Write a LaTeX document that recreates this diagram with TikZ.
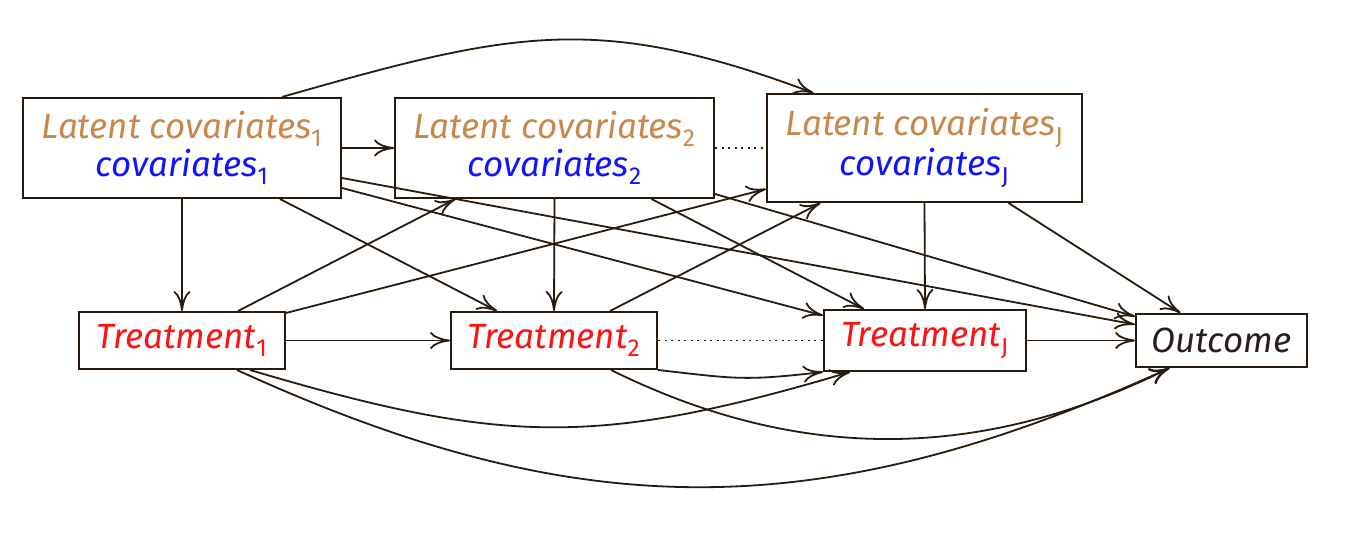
\documentclass[tikz,border=0pt]{standalone}
\usepackage{fontspec}
\setmainfont{Fira Sans}
\usetikzlibrary{arrows.meta,calc}
\definecolor{edgecol}{RGB}{40,26,12}
\definecolor{latcol}{RGB}{200,136,76}
\definecolor{covcol}{RGB}{20,20,250}
\definecolor{trtcol}{RGB}{250,20,20}
\definecolor{outcol}{RGB}{40,30,30}
\newcommand{\sbs}[1]{\textsubscript{\upshape #1}}
\begin{document}
\begin{tikzpicture}[x=1pt,y=-1pt,
  box/.style={draw=edgecol,line width=2pt,inner sep=0pt,align=center,
    font=\fontsize{35}{38}\selectfont\itshape},
  arr/.style={draw=edgecol,line width=1.8pt,-{To[length=20pt,width=17pt]}},
  dots/.style={draw=edgecol,line width=1.8pt,dash pattern=on 2pt off 4.5pt}]
\useasboundingbox (0,0) rectangle (1347,534);
% nodes
\node[box,minimum width=318pt,minimum height=100pt] (L1) at (182,148)
  {{\color{latcol}Latent covariates\sbs{1}}\\{\color{covcol}covariates\sbs{1}}};
\node[box,minimum width=319pt,minimum height=100pt] (L2) at (554.5,148)
  {{\color{latcol}Latent covariates\sbs{2}}\\{\color{covcol}covariates\sbs{2}}};
\node[box,minimum width=315pt,minimum height=108pt] (LJ) at (924.5,148)
  {{\color{latcol}Latent covariates\sbs{J}}\\{\color{covcol}covariates\sbs{J}}};
\node[box,minimum width=206pt,minimum height=57pt,text=trtcol] (T1) at (182,340.5) {Treatment\sbs{1}};
\node[box,minimum width=206pt,minimum height=57pt,text=trtcol] (T2) at (554,340.5) {Treatment\sbs{2}};
\node[box,minimum width=202pt,minimum height=61pt,text=trtcol] (TJ) at (925,340.5) {Treatment\sbs{J}};
\node[box,minimum width=171pt,minimum height=53pt,text=outcol] (O) at (1221.5,340.5) {Outcome};
% top row
\draw[arr] (L1.east) -- (L2.west);
\draw[dots] (L2.east) -- (LJ.west);
\draw[arr] ($(L1.north)+(100,0)$) .. controls (513,31) and (597,12) .. ($(LJ.north)+(-111,0)$);
% from covariates
\draw[arr] (L1.south) -- (T1.north);
\draw[arr] ($(L1.south)+(98,0)$) -- ($(T2.north)+(-57,0)$);
\draw[arr] ($(L1.east)+(0,40)$) -- ($(TJ.west)+(0,-25)$);
\draw[arr] ($(L1.east)+(0,30)$) -- ($(O.west)+(0,-16)$);
\draw[arr] (L2.south) -- (T2.north);
\draw[arr] ($(L2.south)+(97,0)$) -- ($(TJ.north)+(-61,0)$);
\draw[arr] ($(L2.east)+(0,46)$) -- ($(O.west)+(0,-24)$);
\draw[arr] (LJ.south) -- (TJ.north);
\draw[arr] ($(LJ.south)+(84,0)$) -- ($(O.north)+(-41,0)$);
% treatments to covariates
\draw[arr] ($(T1.north)+(56,0)$) -- ($(L2.south)+(-99,0)$);
\draw[arr] ($(T1.north east)+(0,2)$) -- ($(LJ.west)+(0,41)$);
\draw[arr] ($(T2.north)+(56,0)$) -- ($(LJ.south)+(-104,0)$);
% bottom row
\draw[arr] (T1.east) -- (T2.west);
\draw[dots] (T2.east) -- (TJ.west);
\draw[arr] (TJ.east) -- (O.west);
\draw[arr] (T2.south east) .. controls (737,379) and (744,381) .. (TJ.south west);
\draw[arr] ($(T1.south)+(68,0)$) .. controls (503,445) and (597,447) .. ($(TJ.south)+(-75,0)$);
\draw[arr] ($(T1.south)+(55,0)$) .. controls (574,524) and (816,529) .. ($(O.south)+(-52,0)$);
\draw[arr] ($(T2.south)+(57,0)$) .. controls (761,444) and (946,479) .. ($(O.south)+(-52,0)$);
\end{tikzpicture}
\end{document}
